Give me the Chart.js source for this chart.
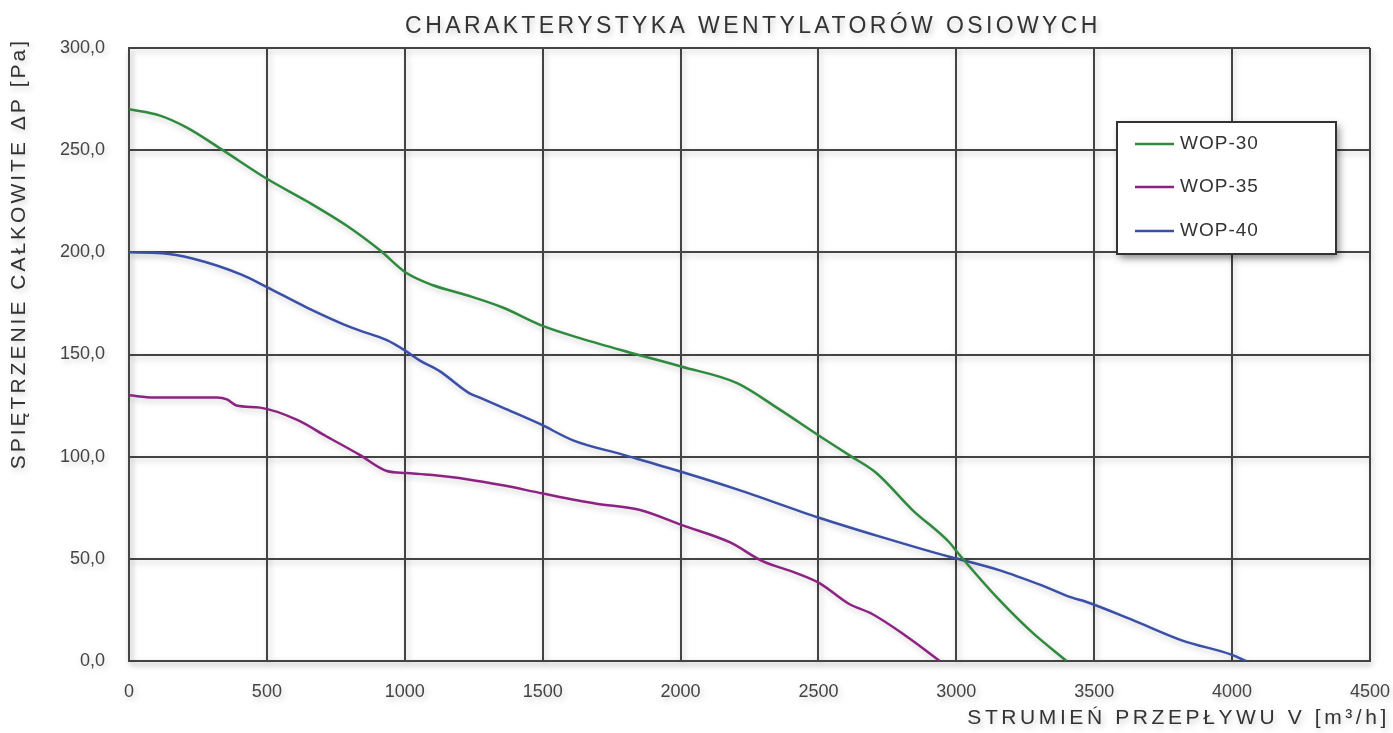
<!DOCTYPE html>
<html>
<head>
<meta charset="utf-8">
<script src="https://cdn.jsdelivr.net/npm/chart.js@4.4.1/dist/chart.umd.min.js"></script>
<style>
  body { margin: 0; background: #fff; }
  #wrap { width: 1393px; height: 733px; }
</style>
</head>
<body>
<div id="wrap"><canvas id="chart" width="1393" height="733"></canvas></div>
<script>
// flow [m3/h] and total pressure [Pa]
const wop30Flow = [0, 110, 210, 340, 500, 645, 790, 910, 1005, 1100, 1225, 1355, 1500, 1635, 1815, 2005, 2205, 2360, 2505, 2620, 2710, 2840, 2975, 3005, 3155, 3275, 3400];
const wop30Pressure = [270, 267, 261, 250, 236, 225, 213, 201, 190, 184, 179, 173, 164, 158, 151, 144, 136, 123, 110, 100, 92, 74, 58, 53, 30, 14, 0];

const wop35Flow = [0, 90, 320, 355, 390, 475, 610, 715, 835, 935, 1005, 1100, 1225, 1355, 1500, 1695, 1850, 2005, 2180, 2295, 2420, 2505, 2610, 2695, 2820, 2940];
const wop35Pressure = [130, 129, 129, 128, 125, 124, 118, 110, 101, 93, 92, 91, 89, 86, 82, 77, 74, 66.5, 58, 49, 43, 38, 28, 23, 12, 0];

const wop40Flow = [0, 120, 230, 410, 500, 645, 810, 935, 1000, 1055, 1125, 1235, 1270, 1355, 1490, 1610, 1790, 2005, 2205, 2505, 2720, 2975, 3005, 3155, 3310, 3420, 3470, 3640, 3820, 4000, 4050];
const wop40Pressure = [200, 199.6, 197, 189, 183, 173, 163, 157, 152, 147, 142, 131, 129, 124, 116, 108, 101, 92.5, 84, 70, 61, 51, 50, 44.5, 37, 31, 29, 20, 10, 3, 0];

const seriesNames = ['WOP-30', 'WOP-35', 'WOP-40'];
const seriesColors = ['#2f8a3e', '#8c2382', '#3a4fa6'];

const xTicks = [0, 500, 1000, 1500, 2000, 2500, 3000, 3500, 4000, 4500];
const yTicks = [0, 50, 100, 150, 200, 250, 300];

const titleText = 'CHARAKTERYSTYKA WENTYLATORÓW OSIOWYCH';
const yTitleText = 'SPIĘTRZENIE CAŁKOWITE ΔP [Pa]';
const xTitleText = 'STRUMIEŃ PRZEPŁYWU V [m³/h]';

function zip(xs, ys) {
  return xs.map((x, i) => ({ x: x, y: ys[i] }));
}

const flows = [wop30Flow, wop35Flow, wop40Flow];
const pressures = [wop30Pressure, wop35Pressure, wop40Pressure];

const datasets = seriesNames.map((name, i) => ({
  label: name,
  data: zip(flows[i], pressures[i]),
  borderColor: seriesColors[i],
  backgroundColor: seriesColors[i],
  borderWidth: 2.5,
  pointRadius: 0,
  cubicInterpolationMode: 'monotone',
  fill: false
}));

const FONT = '"Liberation Sans", Arial, Helvetica, sans-serif';

// soft drop shadow on everything, like the original
const shadowPlugin = {
  id: 'shadow',
  beforeDraw(chart) {
    const ctx = chart.ctx;
    ctx.shadowColor = 'rgba(0,0,0,0.22)';
    ctx.shadowBlur = 6;
    ctx.shadowOffsetX = 2;
    ctx.shadowOffsetY = 3;
  },
  afterDraw(chart) {
    const ctx = chart.ctx;
    ctx.shadowColor = 'rgba(0,0,0,0)';
    ctx.shadowBlur = 0;
    ctx.shadowOffsetX = 0;
    ctx.shadowOffsetY = 0;
  }
};

// titles and boxed legend
const textPlugin = {
  id: 'texts',
  afterDatasetsDraw(chart) {
    const ctx = chart.ctx;
    ctx.save();
    ctx.fillStyle = '#333';

    ctx.font = '23px ' + FONT;
    ctx.letterSpacing = '3.4px';
    ctx.textAlign = 'center';
    ctx.textBaseline = 'middle';
    ctx.fillText(titleText, 753, 27);

    ctx.font = '21px ' + FONT;
    ctx.letterSpacing = '3.6px';
    ctx.textAlign = 'right';
    ctx.fillText(xTitleText, 1390, 718);

    ctx.save();
    ctx.translate(19, 38);
    ctx.rotate(-Math.PI / 2);
    ctx.letterSpacing = '3px';
    ctx.textAlign = 'right';
    ctx.fillText(yTitleText, 0, 0);
    ctx.restore();

    // legend box
    const bx = 1117, by = 122, bw = 219, bh = 132;
    ctx.letterSpacing = '0px';
    ctx.fillStyle = '#fff';
    ctx.shadowColor = 'rgba(0,0,0,0.45)';
    ctx.shadowBlur = 8;
    ctx.shadowOffsetX = 3;
    ctx.shadowOffsetY = 4;
    ctx.fillRect(bx, by, bw, bh);
    ctx.shadowColor = 'rgba(0,0,0,0)';
    ctx.strokeStyle = '#333';
    ctx.lineWidth = 2;
    ctx.strokeRect(bx, by, bw, bh);

    const rows = [144, 187, 231];
    ctx.font = '19px ' + FONT;
    ctx.letterSpacing = '1px';
    ctx.textAlign = 'left';
    chart.data.datasets.forEach((ds, i) => {
      ctx.strokeStyle = ds.borderColor;
      ctx.lineWidth = 2.5;
      ctx.beginPath();
      ctx.moveTo(1135, rows[i]);
      ctx.lineTo(1174, rows[i]);
      ctx.stroke();
      ctx.fillStyle = '#333';
      ctx.fillText(ds.label, 1180, rows[i]);
    });
    ctx.restore();
  }
};

const ctx = document.getElementById('chart').getContext('2d');
const chart = new Chart(ctx, {
  type: 'line',
  data: { datasets: datasets },
  plugins: [shadowPlugin, textPlugin],
  options: {
    responsive: false,
    animation: false,
    layout: { padding: { top: 48, right: 4, left: 0, bottom: 0 } },
    plugins: {
      legend: { display: false },
      title: { display: false },
      tooltip: { enabled: false }
    },
    scales: {
      x: {
        type: 'linear',
        min: xTicks[0],
        max: xTicks[xTicks.length - 1],
        afterBuildTicks: s => { s.ticks = xTicks.map(v => ({ value: v })); },
        afterFit: s => { s.height = 72; s.paddingRight = 23; s.paddingLeft = 0; },
        grid: { color: '#444', lineWidth: 2, drawTicks: false },
        border: { color: '#444', width: 2 },
        ticks: {
          padding: 20,
          color: '#444',
          font: { family: FONT, size: 18 },
          maxRotation: 0,
          callback: v => String(v)
        }
      },
      y: {
        type: 'linear',
        min: yTicks[0],
        max: yTicks[yTicks.length - 1],
        afterBuildTicks: s => { s.ticks = yTicks.map(v => ({ value: v })); },
        afterFit: s => { s.width = 129; },
        grid: { color: '#444', lineWidth: 2, drawTicks: false },
        border: { color: '#444', width: 2 },
        ticks: {
          padding: 24,
          color: '#444',
          font: { family: FONT, size: 18 },
          callback: v => v.toFixed(1).replace('.', ',')
        }
      }
    }
  }
});
</script>
</body>
</html>
